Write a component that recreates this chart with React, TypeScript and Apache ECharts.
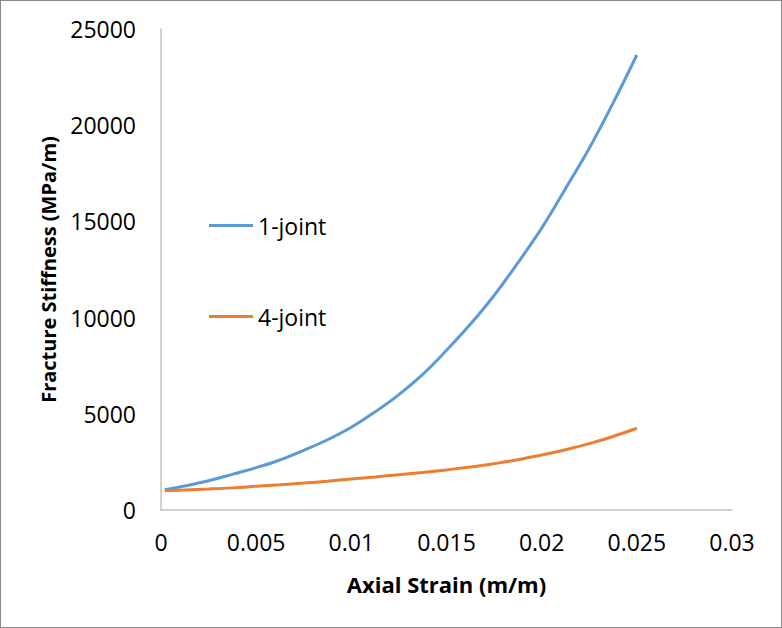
import React, { useEffect, useRef } from "react";
import * as echarts from "echarts";

const strain = [
  0.0002, 0.00125, 0.0025, 0.00375, 0.005, 0.00625, 0.0075, 0.00875, 0.01, 0.01125, 0.0125,
  0.01375, 0.015, 0.01625, 0.0175, 0.01875, 0.02, 0.02125, 0.0225, 0.02375, 0.025,
];
const oneJoint = [
  1050, 1250, 1520, 1850, 2200, 2600, 3100, 3650, 4300, 5100, 6000,
  7050, 8300, 9650, 11150, 12850, 14650, 16700, 18800, 21150, 23650,
];
const fourJoint = [
  1000, 1040, 1090, 1150, 1230, 1310, 1400, 1500, 1610, 1720, 1835,
  1955, 2085, 2230, 2410, 2610, 2860, 3130, 3450, 3820, 4250,
];
const seriesNames = ["1-joint", "4-joint"];
const xTitle = "Axial Strain (m/m)";
const yTitle = "Fracture Stiffness (MPa/m)";

const FONT = "'Open Sans', 'Noto Sans', sans-serif";

export default function App() {
  const ref = useRef<HTMLDivElement>(null);
  useEffect(() => {
    if (!ref.current) return;
    const chart = echarts.init(ref.current, undefined, { renderer: "svg" });
    const legendBase = {
      left: 209,
      padding: 0,
      icon: "path://M0,0 L44,0 L44,3 L0,3 Z",
      itemWidth: 44,
      itemHeight: 3,
      itemGap: 4,
      textStyle: { fontFamily: FONT, fontSize: 23, color: "#000" },
    };
    chart.setOption({
      animation: false,
      backgroundColor: "transparent",
      grid: { left: 161, right: 50, top: 29, bottom: 118, containLabel: false },
      legend: [
        { ...legendBase, data: [seriesNames[0]], top: 214 },
        { ...legendBase, data: [seriesNames[1]], top: 305 },
      ],
      xAxis: {
        type: "value",
        min: 0,
        max: 0.03,
        interval: 0.005,
        name: xTitle,
        nameLocation: "middle",
        nameGap: 63,
        nameTextStyle: { fontFamily: FONT, fontSize: 22, fontWeight: "bold", color: "#000" },
        axisLine: { show: true, lineStyle: { color: "#c3c3c3", width: 1.5 } },
        axisTick: { show: false },
        splitLine: { show: false },
        axisLabel: {
          margin: 20,
          fontFamily: FONT,
          fontSize: 23,
          color: "#000",
          formatter: (v: number) => String(parseFloat(v.toFixed(4))),
        },
      },
      yAxis: {
        type: "value",
        min: 0,
        max: 25000,
        interval: 5000,
        name: yTitle,
        nameLocation: "middle",
        nameGap: 103,
        nameTextStyle: { fontFamily: FONT, fontSize: 20, fontWeight: "bold", color: "#000" },
        axisLine: { show: true, lineStyle: { color: "#c3c3c3", width: 1.5 } },
        axisTick: { show: false },
        splitLine: { show: false },
        axisLabel: {
          margin: 25,
          fontFamily: FONT,
          fontSize: 23,
          color: "#000",
          formatter: (v: number) => String(v),
        },
      },
      series: [
        {
          name: seriesNames[0],
          type: "line",
          smooth: 0.4,
          showSymbol: false,
          symbol: "none",
          data: strain.map((x, i) => [x, oneJoint[i]]),
          lineStyle: { color: "#5b9bd5", width: 3 },
          itemStyle: { color: "#5b9bd5" },
        },
        {
          name: seriesNames[1],
          type: "line",
          smooth: 0.4,
          showSymbol: false,
          symbol: "none",
          data: strain.map((x, i) => [x, fourJoint[i]]),
          lineStyle: { color: "#ed7d31", width: 3 },
          itemStyle: { color: "#ed7d31" },
        },
      ],
    });
    return () => chart.dispose();
  }, []);
  return (
    <div
      style={{
        position: "absolute",
        left: 0,
        top: 0,
        width: 782,
        height: 628,
        background: "#fff",
      }}
    >
      <div ref={ref} style={{ position: "absolute", left: 0, top: 0, width: 782, height: 628 }} />
      <div
        style={{
          position: "absolute",
          left: 0,
          top: 0,
          width: 782,
          height: 628,
          boxSizing: "border-box",
          border: "1.5px solid #8a8a8a",
          pointerEvents: "none",
        }}
      />
    </div>
  );
}
